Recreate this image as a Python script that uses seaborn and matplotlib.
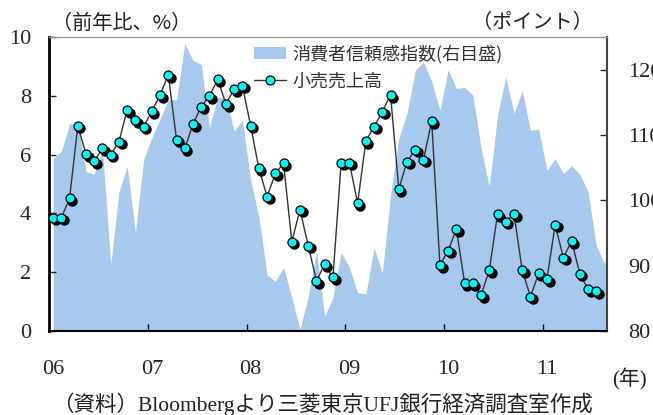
import numpy as np
import matplotlib
matplotlib.use("Agg")
import matplotlib.pyplot as plt
import matplotlib.transforms as mtransforms
from matplotlib.patches import Patch
from matplotlib.lines import Line2D
import seaborn as sns

# Data (monthly, Jan 2006 onwards)
YEAR_LABELS = ["06", "07", "08", "09", "10", "11"]

# 小売売上高 (前年比, %)
retail_sales = [
    3.85, 3.85, 4.51, 6.98, 6.01, 5.78, 6.21, 5.99, 6.44, 7.52, 7.18, 6.95,
    7.48, 8.03, 8.71, 6.50, 6.21, 7.04, 7.63, 7.99, 8.56, 7.72, 8.23, 8.34,
    6.98, 5.53, 4.57, 5.36, 5.70, 3.04, 4.12, 2.90, 1.70, 2.27, 1.82, 5.73,
    5.73, 4.34, 6.46, 6.95, 7.46, 8.03, 4.83, 5.76, 6.16, 5.82, 7.14, 2.24,
    2.73, 3.47, 1.62, 1.62, 1.22, 2.07, 3.97, 3.72, 3.98, 2.06, 1.17, 1.96,
    1.77, 3.61, 2.49, 3.06, 1.95, 1.42, 1.36,
]

# 消費者信頼感指数 (ポイント, 右目盛)
consumer_conf = [
    106.4, 107.5, 111.7, 111.7, 104.4, 104.0, 107.7, 90.2, 101.3, 105.2, 95.1, 106.3,
    109.6, 112.5, 115.4, 115.4, 124.0, 121.4, 120.8, 111.2, 115.8, 115.6, 110.6, 112.3,
    103.1, 97.5, 88.6, 87.6, 89.7, 85.1, 80.3, 85.3, 92.2, 82.3, 85.1, 92.0,
    89.7, 85.9, 85.7, 92.7, 88.9, 100.8, 109.5, 113.3, 119.9, 121.2, 118.2, 113.8,
    120.0, 117.1, 117.3, 116.1, 108.0, 102.1, 113.0, 118.9, 113.3, 116.8, 110.7, 110.9,
    104.6, 106.4, 104.1, 105.3, 104.0, 101.3, 93.0, 90.3, 95.0,
]

x_retail = np.arange(len(retail_sales)) + 0.5
x_conf = np.arange(len(consumer_conf)) + 0.5

sns.set_theme(style="ticks")
plt.rcParams["font.family"] = ["Liberation Serif", "Noto Sans CJK JP"]
JP = ["Noto Sans CJK JP", "DejaVu Sans"]
MIXED = ["Liberation Serif", "Noto Sans CJK JP"]

fig = plt.figure(figsize=(6.53, 4.15), dpi=100)
ax = fig.add_axes([49 / 653, 1 - 331 / 415, 558 / 653, 294 / 415])
ax2 = ax.twinx()
ax.set_zorder(ax2.get_zorder() + 1)
ax.patch.set_visible(False)

# area: consumer confidence (right axis)
area_color = "#a7c9ee"
ax2.fill_between(x_conf, 80, consumer_conf, color=area_color, lw=0)
ax2.set_ylim(80, 125)
ax2.set_yticks([80, 90, 100, 110, 120])

# line: retail sales (left axis), with a dark drop shadow under each marker
shadow = mtransforms.offset_copy(ax.transData, fig=fig, x=2.6, y=-2.6, units="dots")
sns.lineplot(x=x_retail, y=retail_sales, ax=ax, color="#333333", lw=1.0, zorder=2)
ax.plot(x_retail, retail_sales, ls="none", marker="o", ms=6.5, mfc="black",
        mec="black", transform=shadow, zorder=3)
ax.plot(x_retail, retail_sales, ls="none", marker="o", ms=6.5, mfc="#00f5f5",
        mec="black", mew=0.9, zorder=4)

ax.set_ylim(0, 10)
ax.set_yticks(np.arange(0, 11, 2))
ax.set_xlim(0, 67.8)
ax.set_xticks(np.arange(0, 61, 12))
ax.set_xticklabels([])
ax.set_xticks(np.arange(0, 61, 12) + 0.5, minor=True)
ax.set_xticklabels(YEAR_LABELS, minor=True)

ax.tick_params(axis="x", which="major", direction="in", length=5, width=1, color="black")
ax.tick_params(axis="x", which="minor", length=0, pad=21, labelsize=16)
ax.tick_params(axis="y", direction="in", length=5, width=1, pad=13, labelsize=16)
ax2.tick_params(axis="y", direction="in", length=5, width=1, pad=15, labelsize=16)

for s in ["top", "right", "left", "bottom"]:
    ax2.spines[s].set_visible(False)
ax2.spines["right"].set_visible(True)
ax2.spines["right"].set_color("#444444")
ax2.spines["right"].set_linewidth(1.5)
ax.spines["right"].set_visible(False)
ax.spines["top"].set_color("#999999")
ax.spines["top"].set_linewidth(1.0)
ax.spines["left"].set_color("black")
ax.spines["left"].set_linewidth(2.0)
ax.spines["bottom"].set_color("black")
ax.spines["bottom"].set_linewidth(1.5)
ax.set_xlabel("")
ax.set_ylabel("")

# legend
handles = [
    Patch(facecolor=area_color, edgecolor="none"),
    Line2D([], [], color="#333333", lw=1.0, marker="o", ms=6.5, mfc="#00f5f5", mec="black", mew=0.9),
]
labels = ["消費者信頼感指数(右目盛)", "小売売上高"]
ax.legend(handles, labels, loc="upper left", bbox_to_anchor=(0.367, 0.975),
          frameon=False, borderpad=0, borderaxespad=0, handlelength=1.8,
          handleheight=0.6, handletextpad=0.35, labelspacing=0.5,
          prop={"family": JP, "size": 13}, labelcolor="#333333")

# axis titles and notes
fig.text(52 / 653, 1 - 23 / 415, "（前年比、%）", family=JP, fontsize=14.5,
         ha="left", va="center", color="#222222")
fig.text(593 / 653, 1 - 23 / 415, "（ポイント）", family=JP, fontsize=14.5,
         ha="right", va="center", color="#222222")
fig.text(612 / 653, 1 - 379 / 415, "(年)", family=MIXED,
         fontsize=15, ha="left", va="center", color="#222222")
fig.text(322 / 653, 1 - 404 / 415, "（資料）Bloombergより三菱東京UFJ銀行経済調査室作成",
         family=MIXED, fontsize=15.5, ha="center", va="center", color="#222222")

fig.savefig("out.png", dpi=100)
